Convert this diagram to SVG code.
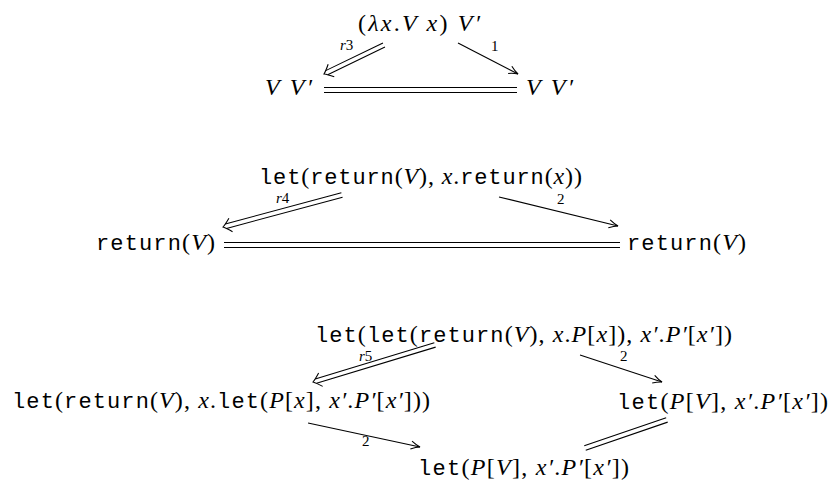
<svg xmlns="http://www.w3.org/2000/svg" xmlns:xlink="http://www.w3.org/1999/xlink" width="831" height="481" viewBox="0 0 831 481">
<style>
.s{font-family:"Liberation Serif","Times New Roman",serif;font-size:24px;fill:#000}
.m{font-family:"Liberation Mono","Courier New",monospace;font-size:22px}
.i{font-style:italic}
.lab{font-family:"Liberation Serif","Times New Roman",serif;font-size:15px;fill:#000}
.ln{stroke:#000;stroke-width:1.1;fill:none}
</style>
<defs>
<path id="sh" class="ln" d="M-9,-4 Q-4,-1 0,0 Q-4,1 -9,4"/>
<path id="dh" class="ln" d="M-8,-7 Q-3,-2 0,0 Q-3,2 -8,7"/>
</defs>
<rect width="831" height="481" fill="#fff"/>

<g id="n1-top"><text class="s" x="358" y="31" textLength="122" lengthAdjust="spacing">(<tspan class="i">λx</tspan>.<tspan class="i">V x</tspan>) <tspan class="i">V′</tspan></text></g>
<g id="n1-left"><text class="s i" x="265" y="95" textLength="47" lengthAdjust="spacing">V V′</text></g>
<g id="n1-right"><text class="s i" x="526" y="95" textLength="47" lengthAdjust="spacing">V V′</text></g>

<g id="n2-top"><text class="s" x="259" y="184" textLength="323" lengthAdjust="spacing"><tspan class="m">let</tspan>(<tspan class="m">return</tspan>(<tspan class="i">V</tspan>), <tspan class="i">x</tspan>.<tspan class="m">return</tspan>(<tspan class="i">x</tspan>))</text></g>
<g id="n2-left"><text class="s" x="96" y="250" textLength="119" lengthAdjust="spacing"><tspan class="m">return</tspan>(<tspan class="i">V</tspan>)</text></g>
<g id="n2-right"><text class="s" x="627" y="250" textLength="119" lengthAdjust="spacing"><tspan class="m">return</tspan>(<tspan class="i">V</tspan>)</text></g>

<g id="n3-top"><text class="s" x="315" y="342" textLength="417" lengthAdjust="spacing"><tspan class="m">let</tspan>(<tspan class="m">let</tspan>(<tspan class="m">return</tspan>(<tspan class="i">V</tspan>), <tspan class="i">x</tspan>.<tspan class="i">P</tspan>[<tspan class="i">x</tspan>]), <tspan class="i">x′</tspan>.<tspan class="i">P′</tspan>[<tspan class="i">x′</tspan>])</text></g>
<g id="n3-left"><text class="s" x="12" y="408" textLength="418" lengthAdjust="spacing"><tspan class="m">let</tspan>(<tspan class="m">return</tspan>(<tspan class="i">V</tspan>), <tspan class="i">x</tspan>.<tspan class="m">let</tspan>(<tspan class="i">P</tspan>[<tspan class="i">x</tspan>], <tspan class="i">x′</tspan>.<tspan class="i">P′</tspan>[<tspan class="i">x′</tspan>]))</text></g>
<g id="n3-right"><text class="s" x="617" y="409" textLength="211" lengthAdjust="spacing"><tspan class="m">let</tspan>(<tspan class="i">P</tspan>[<tspan class="i">V</tspan>], <tspan class="i">x′</tspan>.<tspan class="i">P′</tspan>[<tspan class="i">x′</tspan>])</text></g>
<g id="n3-bottom"><text class="s" x="418" y="475" textLength="211" lengthAdjust="spacing"><tspan class="m">let</tspan>(<tspan class="i">P</tspan>[<tspan class="i">V</tspan>], <tspan class="i">x′</tspan>.<tspan class="i">P′</tspan>[<tspan class="i">x′</tspan>])</text></g>

<g id="connectors">
<g transform="translate(324,74) rotate(154.2)"><path class="ln" d="M-66.6,-2.3H-3M-66.6,2.3H-3"/><use href="#dh"/></g>
<g transform="translate(518,74) rotate(27.3)"><path class="ln" d="M-67.5,0H0"/><use href="#sh"/></g>
<path class="ln" d="M324,87.5H517M324,92.5H517"/>
<text class="lab" x="340" y="50"><tspan class="i">r</tspan>3</text>
<text class="lab" x="491" y="51">1</text>

<g transform="translate(223,227) rotate(164.95)"><path class="ln" d="M-123.2,-2.3H-3M-123.2,2.3H-3"/><use href="#dh"/></g>
<g transform="translate(618,226) rotate(13.7)"><path class="ln" d="M-122.5,0H0"/><use href="#sh"/></g>
<path class="ln" d="M224,242.5H620M224,247.5H620"/>
<text class="lab" x="276" y="203"><tspan class="i">r</tspan>4</text>
<text class="lab" x="557" y="204">2</text>

<g transform="translate(313,382) rotate(163.1)"><path class="ln" d="M-127.5,-2.3H-3M-127.5,2.3H-3"/><use href="#dh"/></g>
<g transform="translate(662,382) rotate(18.2)"><path class="ln" d="M-86.3,0H0"/><use href="#sh"/></g>
<g transform="translate(420,447) rotate(12.1)"><path class="ln" d="M-114.5,0H0"/><use href="#sh"/></g>
<g transform="translate(585,448) rotate(161.1)"><path class="ln" d="M-86.6,-2.3H0M-86.6,2.3H0"/></g>
<text class="lab" x="359" y="361"><tspan class="i">r</tspan>5</text>
<text class="lab" x="620" y="361">2</text>
<text class="lab" x="362" y="446">2</text>
</g>
</svg>
